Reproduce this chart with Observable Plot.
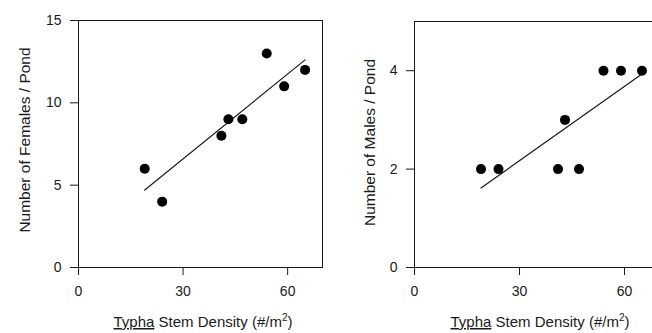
<!DOCTYPE html>
<html>
<head>
<meta charset="utf-8">
<script src="https://cdn.jsdelivr.net/npm/d3@7"></script>
<script src="https://cdn.jsdelivr.net/npm/@observablehq/plot@0.6"></script>
<style>
  html, body { margin: 0; padding: 0; background: #fff; overflow: hidden; }
  #wrap { position: relative; width: 652px; height: 333px; background: #fff; }
  .panel { position: absolute; top: 0; height: 333px; overflow: hidden; }
  .panel svg { max-width: none !important; height: 333px !important; display: block; }
  svg text { font-family: "Liberation Sans", Arial, sans-serif; }
</style>
</head>
<body>
<div id="wrap">
  <div class="panel" id="left" style="left:0;width:326px"></div>
  <div class="panel" id="right" style="left:326px;width:326px"></div>
</div>
<script>
// Typha stem density (#/m^2) for each pond
const density = [19, 24, 41, 43, 47, 54, 59, 65];
// Number of females per pond
const females = [6, 4, 8, 9, 9, 13, 11, 12];
// Number of males per pond
const males = [2, 2, 2, 3, 2, 4, 4, 4];

const xTicks = [0, 30, 60];
const femaleTicks = [0, 5, 10, 15];
const maleTicks = [0, 2, 4];

const femaleData = density.map((d, i) => ({x: d, y: females[i]}));
const maleData = density.map((d, i) => ({x: d, y: males[i]}));

const FONT = "'Liberation Sans', Arial, sans-serif";
const INK = "#1a1a1a";

function panel({data, yDomain, yTicks, width, marginLeft, marginRight, marginTop, yLabel, yLabelX, yLabelY, xLabelX}) {
  const svg = Plot.plot({
    width,
    height: 333,
    marginLeft,
    marginRight,
    marginTop,
    marginBottom: 66,
    style: {fontFamily: FONT, fontSize: "14px", background: "white", color: INK},
    x: {domain: [0, 70]},
    y: {domain: yDomain},
    marks: [
      Plot.frame({stroke: INK, strokeWidth: 1}),
      Plot.axisX({ticks: xTicks, tickSize: 8, tickPadding: 11, label: null, tickFormat: d => String(d), fontSize: 14}),
      Plot.axisY({ticks: yTicks, tickSize: 8, tickPadding: 9, label: null, tickFormat: d => String(d), fontSize: 14}),
      Plot.linearRegressionY(data, {x: "x", y: "y", ci: 0, stroke: INK, strokeWidth: 1.2}),
      Plot.dot(data, {x: "x", y: "y", r: 5, fill: "black", stroke: "none"})
    ]
  });
  svg.style.maxWidth = "none";
  const s = d3.select(svg);
  // y-axis title
  s.append("text")
    .attr("transform", `translate(${yLabelX},${yLabelY}) rotate(-90)`)
    .attr("text-anchor", "middle")
    .attr("font-family", FONT)
    .attr("font-size", 15.5)
    .attr("fill", INK)
    .text(yLabel);
  // x-axis title
  const t = s.append("text")
    .attr("x", xLabelX)
    .attr("y", 327)
    .attr("text-anchor", "middle")
    .attr("font-family", FONT)
    .attr("font-size", 15)
    .attr("fill", INK);
  t.append("tspan").attr("text-decoration", "underline").text("Typha");
  t.append("tspan").text(" Stem Density (#/m");
  t.append("tspan").attr("font-size", 10).attr("dy", -6).text("2");
  t.append("tspan").attr("dy", 6).text(")");
  return svg;
}

document.getElementById("left").appendChild(panel({
  data: femaleData,
  yDomain: [0, 15],
  yTicks: femaleTicks,
  width: 326,
  marginLeft: 78,
  marginRight: 4,
  marginTop: 20,
  yLabel: "Number of Females / Pond",
  yLabelX: 30,
  yLabelY: 140,
  xLabelX: 203
}));

document.getElementById("right").appendChild(panel({
  data: maleData,
  yDomain: [0, 5],
  yTicks: maleTicks,
  width: 340,
  marginLeft: 88,
  marginRight: 7,
  marginTop: 21,
  yLabel: "Number of Males / Pond",
  yLabelX: 49,
  yLabelY: 142.5,
  xLabelX: 214
}));
</script>
</body>
</html>
